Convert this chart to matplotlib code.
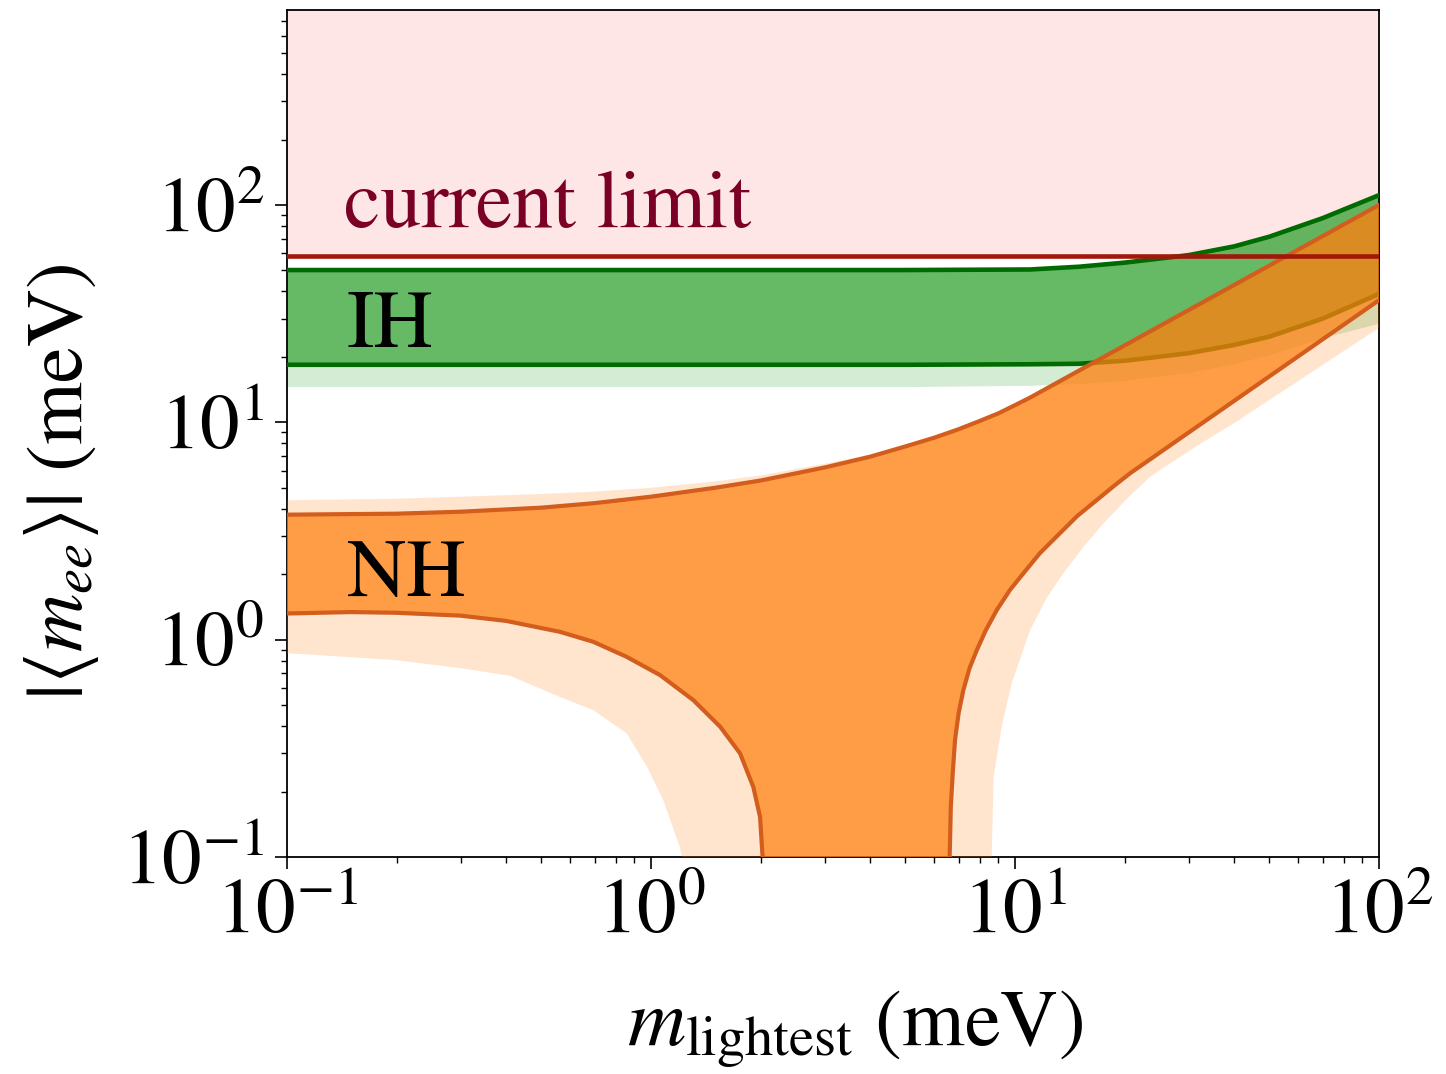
import matplotlib
matplotlib.use('Agg')
import matplotlib.pyplot as plt
import numpy as np

# current experimental upper bound on |<m_ee>| (meV)
limit = 58.0
y_top = 790.0

# inverted hierarchy: best fit band and wider (light) band
ih_x = [0.1, 1.0, 5.0, 11.0, 15.0, 20.0, 30.0, 40.0, 50.0, 70.0, 100.0]
ih_up = [50.2, 50.2, 50.2, 50.5, 52.0, 54.3, 58.8, 64.5, 71.5, 87.0, 111.0]
ih_lo = [18.4, 18.4, 18.4, 18.5, 18.6, 19.2, 20.8, 22.7, 24.8, 30.0, 39.0]
ih_lo_wide = [14.6, 14.6, 14.6, 14.8, 15.1, 15.6, 17.0, 18.6, 20.5, 24.5, 28.6]

# normal hierarchy: upper edge
nh_up_x = [0.1, 0.2, 0.3, 0.5, 0.7, 1.0, 1.5, 2.0, 3.0, 4.0, 5.0, 6.0, 7.0, 8.0, 9.0, 10.0, 11.0, 100.0]
nh_up = [3.76, 3.8, 3.88, 4.05, 4.25, 4.55, 5.0, 5.4, 6.2, 6.95, 7.75, 8.5, 9.3, 10.15, 11.0, 12.0, 13.0, 100.0]
nh_up_wide = [4.38, 4.45, 4.55, 4.68, 4.8, 5.0, 5.35, 5.7, 6.45, 7.1, 7.85, 8.6, 9.35, 10.2, 11.0, 12.0, 13.0, 100.0]

# normal hierarchy: lower edge, left branch (falls to zero near 2 meV)
nh_lo_left_x = [0.1, 0.15, 0.2, 0.3, 0.4, 0.562, 0.694, 0.857, 1.059, 1.307, 1.548, 1.756, 1.91, 1.993, 2.022, 2.04]
nh_lo_left = [1.32, 1.34, 1.33, 1.29, 1.22, 1.087, 0.978, 0.834, 0.687, 0.527, 0.398, 0.30, 0.21, 0.153, 0.104, 0.09]

# normal hierarchy: lower edge, right branch
nh_lo_right_x = [6.6, 6.63, 6.66, 6.75, 6.84, 7.0, 7.21, 7.5, 7.85, 8.3, 8.91, 9.7, 10.54,
                 11.7, 13.0, 14.8, 16.77, 18.7, 20.7, 100.0]
nh_lo_right = [0.09, 0.12, 0.17, 0.25, 0.345, 0.46, 0.586, 0.74, 0.895, 1.1, 1.37, 1.7, 2.02,
               2.5, 2.98, 3.7, 4.39, 5.1, 5.83, 36.5]

# wider (light) band lower edges
nh_wide_left_x = [0.1, 0.198, 0.299, 0.41, 0.562, 0.694, 0.857, 0.975, 1.08, 1.2, 1.23]
nh_wide_left = [0.867, 0.806, 0.74, 0.682, 0.545, 0.474, 0.371, 0.26, 0.183, 0.111, 0.09]
nh_wide_right_x = [8.6, 8.63, 8.73, 9.19, 9.79, 11.0, 12.2, 13.57, 15.5, 17.5, 20.3, 23.5, 32.0, 40.7, 60.0, 100.0]
nh_wide_right = [0.09, 0.1, 0.234, 0.397, 0.63, 1.107, 1.55, 2.02, 2.7, 3.43, 4.45, 5.62, 7.9, 10.1, 15.5, 27.2]

plt.rcParams['font.family'] = ['STIXGeneral', 'DejaVu Serif']
plt.rcParams['mathtext.fontset'] = 'stix'

fig = plt.figure(figsize=(14.46, 10.74), dpi=100)
ax = fig.add_axes([0.1985, 0.202, 0.7552, 0.7888])
ax.set_xscale('log')
ax.set_yscale('log')

# excluded region
ax.axhspan(limit, y_top, color='#fee5e6', lw=0, zorder=0)

# IH
ax.fill_between(ih_x, ih_lo_wide, ih_up, color='#2ca02c', alpha=0.2, lw=0, zorder=1)
ax.fill_between(ih_x, ih_lo, ih_up, color='#2ca02c', alpha=0.65, lw=0, zorder=2)
ax.plot(ih_x, ih_up, color='#006b00', lw=3.3, zorder=3)
ax.plot(ih_x, ih_lo, color='#006b00', lw=3.3, zorder=3)

# NH
wx = np.concatenate([nh_up_x, nh_wide_right_x[::-1], nh_wide_left_x[::-1]])
wy = np.concatenate([nh_up_wide, nh_wide_right[::-1], nh_wide_left[::-1]])
ax.fill(wx, wy, color='#ff7f0e', alpha=0.2, lw=0, zorder=4)

bx = np.concatenate([nh_up_x, nh_lo_right_x[::-1], nh_lo_left_x[::-1]])
by = np.concatenate([nh_up, nh_lo_right[::-1], nh_lo_left[::-1]])
ax.fill(bx, by, color='#ff7f0e', alpha=0.7, lw=0, zorder=5)

ax.plot(nh_up_x, nh_up, color='#d35d1c', lw=3, zorder=6)
ax.plot(nh_lo_left_x, nh_lo_left, color='#d35d1c', lw=3, zorder=6)
ax.plot(nh_lo_right_x, nh_lo_right, color='#d35d1c', lw=3, zorder=6)

ax.axhline(limit, color='#a3170b', lw=3.3, zorder=7)

ax.text(0.143, 79, 'current limit', fontsize=59, color='#7a0026', zorder=8)
ax.text(0.146, 22.2, 'IH', fontsize=59, color='black', zorder=8)
ax.text(0.146, 1.59, 'NH', fontsize=59, color='black', zorder=8)

ax.set_xlim(0.1, 100)
ax.set_ylim(0.1, y_top)
ax.tick_params(which='major', length=8.5, width=1.2, labelsize=57, pad=8)
ax.tick_params(which='minor', length=4.5, width=1.0)
for s in ax.spines.values():
    s.set_linewidth(1.3)

ax.set_xlabel(r'$m_{\rm lightest}$ (meV)', fontsize=58)
ax.set_ylabel(r'$|\langle m_{ee}\rangle|$ (meV)', fontsize=58)
ax.xaxis.set_label_coords(0.52, -0.155)
ax.yaxis.set_label_coords(-0.17, 0.443)

fig.savefig('out.png', dpi=100)
